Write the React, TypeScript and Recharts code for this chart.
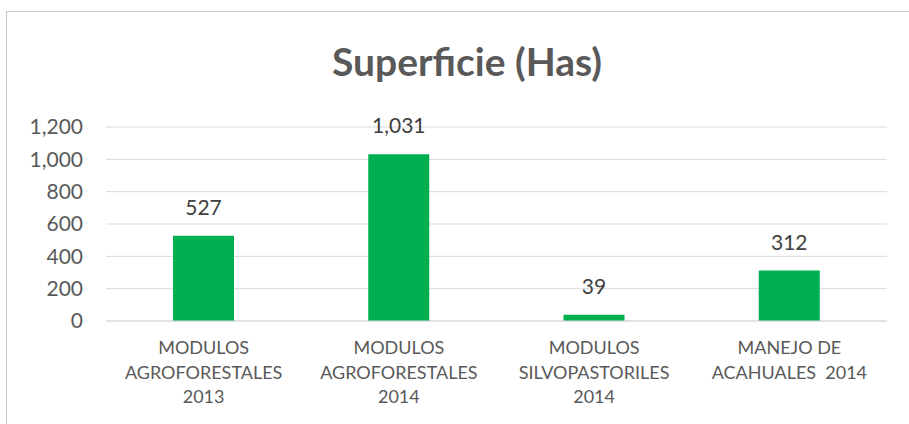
import { BarChart, Bar, XAxis, YAxis, CartesianGrid, LabelList } from 'recharts';

const categories = [
  'MODULOS AGROFORESTALES 2013',
  'MODULOS AGROFORESTALES 2014',
  'MODULOS SILVOPASTORILES 2014',
  'MANEJO DE ACAHUALES  2014',
];
const tickLines = [
  ['MODULOS', 'AGROFORESTALES', '2013'],
  ['MODULOS', 'AGROFORESTALES', '2014'],
  ['MODULOS', 'SILVOPASTORILES', '2014'],
  ['MANEJO DE', 'ACAHUALES  2014'],
];
const superficie = [527, 1031, 39, 312];
const yTicks = [0, 200, 400, 600, 800, 1000, 1200];

const data = categories.map((name, i) => ({ name, value: superficie[i] }));

const FONT = 'Lato, "Open Sans", sans-serif';
const fmt = (v: number) => v.toLocaleString('en-US');

function CategoryTick(props: any) {
  const { x, y, payload } = props;
  const idx = categories.indexOf(payload.value);
  const lines = tickLines[idx] || [payload.value];
  return (
    <text x={x} y={y} textAnchor="middle" fill="#595959" fontSize={18} fontFamily={FONT}>
      {lines.map((l, i) => (
        <tspan key={i} x={x} y={y + 33 + i * 24.5} style={{ whiteSpace: 'pre' }}>{l}</tspan>
      ))}
    </text>
  );
}

export default function App() {
  return (
    <div style={{ position: 'absolute', left: 0, top: 0, width: 909, height: 424, overflow: 'hidden', background: '#fff' }}>
      <div style={{ position: 'absolute', left: 6, top: 11, width: 940, height: 440, border: '1px solid #c8c8c8' }} />
      <svg width={909} height={424} style={{ position: 'absolute', left: 0, top: 0, pointerEvents: 'none' }}>
        <text x={467} y={76} textAnchor="middle" fill="#595959" fontSize={39} fontWeight="bold" fontFamily={FONT}>
          Superficie (Has)
        </text>
      </svg>
      <div style={{ position: 'absolute', left: 0, top: 0 }}>
        <BarChart width={909} height={424} data={data} margin={{ top: 127, right: 22, left: 0, bottom: 0 }}>
          <CartesianGrid vertical={false} stroke="#d9d9d9" />
          <XAxis
            dataKey="name"
            height={103}
            axisLine={{ stroke: '#d9d9d9' }}
            tickLine={false}
            tickSize={0}
            tickMargin={0}
            interval={0}
            tick={<CategoryTick />}
          />
          <YAxis
            width={106}
            domain={[0, 1200]}
            ticks={yTicks}
            axisLine={false}
            tickLine={false}
            tickSize={0}
            tickMargin={23}
            tickFormatter={fmt}
            tick={{ fill: '#595959', fontSize: 21, fontFamily: FONT }}
          />
          <Bar dataKey="value" fill="#00b050" barSize={61} isAnimationActive={false}>
            <LabelList
              dataKey="value"
              position="top"
              offset={21}
              formatter={(v: any) => fmt(Number(v))}
              fill="#404040"
              fontSize={21}
              fontFamily={FONT}
            />
          </Bar>
        </BarChart>
      </div>
    </div>
  );
}
